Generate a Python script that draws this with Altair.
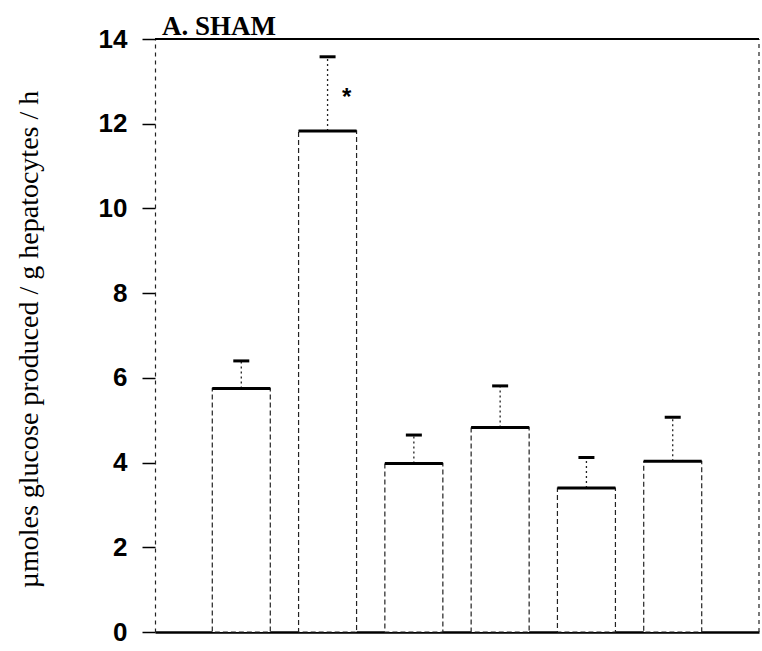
import altair as alt
import pandas as pd

# ---- data ----
positions = [1, 2, 3, 4, 5, 6]
means = [5.75, 11.83, 3.98, 4.83, 3.40, 4.03]
upper = [6.40, 13.58, 4.65, 5.81, 4.12, 5.07]
star_pos = [2.22]
star_val = [12.72]
y_ticks = [0, 2, 4, 6, 8, 10, 12, 14]
x_domain = [0, 7]
y_domain = [0, 14]

df = pd.DataFrame({"pos": positions, "mean": means, "upper": upper})
star_df = pd.DataFrame({"pos": star_pos, "mean": star_val, "lab": ["*"]})
top_df = pd.DataFrame({"pos": [x_domain[0]], "x2": [x_domain[1]], "mean": [y_domain[1]]})
right_df = pd.DataFrame({"pos": [x_domain[1]], "mean": [y_domain[0]], "y2": [y_domain[1]]})

xs = alt.Scale(domain=x_domain, nice=False, zero=False, padding=0)
ys = alt.Scale(domain=y_domain, nice=False, padding=0)

x_axis = alt.Axis(title=None, labels=False, ticks=False, grid=False,
                  domainColor="black", domainWidth=2.5)
y_axis = alt.Axis(values=y_ticks, grid=False,
                  title="µmoles glucose produced / g hepatocytes / h",
                  titleFont="Liberation Serif", titleFontSize=28,
                  titleFontWeight="normal", titleColor="black",
                  titleBaseline="alphabetic",
                  titleX=-118, titleY=300,
                  labelFont="Liberation Sans", labelFontSize=26,
                  labelFontWeight="bold",
                  labelColor="black", labelPadding=15,
                  tickSize=13, tickColor="black", tickWidth=1.5,
                  domainColor="#222", domainWidth=1.2,
                  domainDash=[4, 4])

X = alt.X("pos:Q", scale=xs, axis=x_axis)
Y = alt.Y("mean:Q", scale=ys, axis=y_axis)

bars = alt.Chart(df).mark_bar(
    size=58, fill="white", stroke="#222", strokeWidth=1.2, strokeDash=[5, 3],
    opacity=1
).encode(x=X, y=Y)

tops = alt.Chart(df).mark_tick(
    orient="horizontal", size=58, thickness=3, color="black", opacity=1
).encode(x=X, y=Y)

whisk = alt.Chart(df).mark_rule(
    color="#222", strokeWidth=1.3, strokeDash=[2, 3], opacity=1
).encode(x=X, y=Y, y2="upper:Q")

caps = alt.Chart(df).mark_tick(
    orient="horizontal", size=16, thickness=3, color="black", opacity=1
).encode(x=X, y=alt.Y("upper:Q", scale=ys, axis=y_axis))

top_line = alt.Chart(top_df).mark_rule(color="black", strokeWidth=2).encode(
    x=X, x2="x2:Q", y=Y,
)

right_line = alt.Chart(right_df).mark_rule(
    color="#222", strokeWidth=1.2, strokeDash=[4, 4]
).encode(x=X, y=Y, y2="y2:Q")

star = alt.Chart(star_df).mark_text(
    font="Liberation Sans", fontSize=24, fontWeight="bold", color="black",
    baseline="middle", dy=5
).encode(x=X, y=Y, text="lab:N")

chart = alt.layer(
    right_line, bars, whisk, tops, caps, top_line, star
).properties(
    width=604, height=593,
    autosize=alt.AutoSizeParams(type="none"),
    padding={"left": 155, "top": 39, "right": 3, "bottom": 19},
    background="white",
    title=alt.TitleParams(
        "A. SHAM", anchor="start", frame="group", font="Liberation Serif",
        fontSize=27, fontWeight="bold", color="black", offset=6, dx=7, dy=21,
    ),
).configure_view(stroke=None)

chart.save("out.html", embed_options={"renderer": "svg", "actions": False})
